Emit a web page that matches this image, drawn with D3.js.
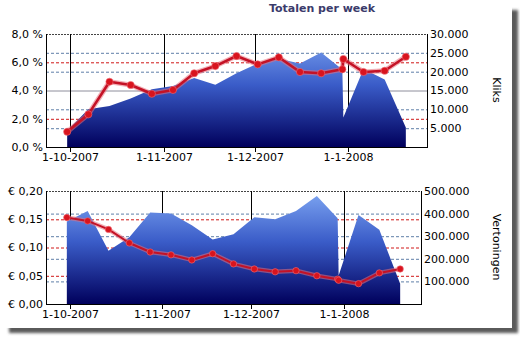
<!DOCTYPE html>
<html>
<head>
<meta charset="utf-8">
<script src="https://cdn.jsdelivr.net/npm/d3@7"></script>
<style>
  html, body { margin: 0; padding: 0; background: #fff; }
  svg { display: block; }
  text { font-family: "DejaVu Sans", Verdana, sans-serif; font-size: 11px; fill: #000; }
</style>
</head>
<body>
<svg id="chart" width="520" height="337"></svg>
<script>
// Weekly totals (week end dates); the year boundary week is split in two rows
const weeks = [
  "2007-09-30", "2007-10-07", "2007-10-14", "2007-10-21", "2007-10-28",
  "2007-11-04", "2007-11-11", "2007-11-18", "2007-11-25", "2007-12-02",
  "2007-12-09", "2007-12-16", "2007-12-23", "2007-12-30", "2007-12-30T08:00",
  "2008-01-06", "2008-01-13", "2008-01-20"
];
// Click-through rate in %
const ctrPct = [1.08, 2.31, 4.62, 4.39, 3.77, 4.04, 5.22, 5.73, 6.44, 5.85,
                6.35, 5.31, 5.22, 5.50, 6.23, 5.31, 5.40, 6.39];
// Clicks (kliks)
const clicks = [4300, 10000, 10900, 12900, 15300, 16200, 18300, 16500, 19600, 22200,
                23400, 22200, 25100, 20600, 7800, 20700, 17900, 5200];
// Cost per click in euro
const costPerClick = [0.153, 0.147, 0.132, 0.108, 0.092, 0.087, 0.078, 0.089, 0.071, 0.062,
                      0.057, 0.059, 0.050, 0.044, 0.042, 0.036, 0.055, 0.062];
// Impressions (vertoningen)
const impressions = [365000, 412000, 236000, 295000, 405000, 400000, 348000, 285000, 309000, 384000,
                     375000, 412000, 478000, 379000, 126000, 394000, 328000, 90000];

const monthTicks = ["2007-10-01", "2007-11-01", "2007-12-01", "2008-01-01"];
const pctTicks = [0, 2, 4, 6, 8];
const clickTicks = [5000, 10000, 15000, 20000, 25000, 30000];
const cpcTicks = [0, 0.05, 0.10, 0.15, 0.20];
const imprTicks = [100000, 200000, 300000, 400000, 500000];
const xDomain = ["2007-09-23", "2008-01-27"];

const parseDay = d3.timeParse("%Y-%m-%d");
const parseHour = d3.timeParse("%Y-%m-%dT%H:%M");
const toDate = s => parseHour(s) || parseDay(s);

const nl = d3.formatLocale({ decimal: ",", thousands: ".", grouping: [3], currency: ["€ ", ""] });
const fmtPct = v => nl.format(".1f")(v) + " %";
const fmtInt = nl.format(",");
const fmtEur = v => "€ " + nl.format(".2f")(v);
const fmtDate = d3.timeFormat("%-d-%-m-%Y");

const svg = d3.select("#chart");
const defs = svg.append("defs");

// Panel with a soft drop shadow
defs.append("filter").attr("id", "shadow").attr("x", "-5%").attr("y", "-5%")
  .attr("width", "110%").attr("height", "110%")
  .append("feGaussianBlur").attr("stdDeviation", 1.8);
svg.append("rect").attr("x", 9).attr("y", 10).attr("width", 509).attr("height", 323)
  .attr("fill", "#5a5a5a").attr("filter", "url(#shadow)");
svg.append("rect").attr("x", -2).attr("y", -2).attr("width", 514).attr("height", 330)
  .attr("fill", "#fff");

svg.append("text").attr("x", 322).attr("y", 12).attr("text-anchor", "middle")
  .style("font-weight", "bold").style("fill", "#3b3b6b").text("Totalen per week");

function drawChart(o) {
  const g = svg.append("g");
  const x = d3.scaleTime().domain(xDomain.map(toDate)).range([46, o.right]);
  const yL = d3.scaleLinear().domain([0, o.leftMax]).range([o.bottom, o.top]);
  const yR = d3.scaleLinear().domain([0, o.rightMax]).range([o.bottom, o.top]);
  const rows = weeks.map((w, i) => ({ d: toDate(w), a: o.area[i], l: o.line[i] }));

  const grad = defs.append("linearGradient").attr("id", o.id + "-fill")
    .attr("gradientUnits", "userSpaceOnUse")
    .attr("x1", 0).attr("x2", 0).attr("y1", o.top).attr("y2", o.bottom);
  grad.append("stop").attr("offset", 0).attr("stop-color", "#7ea6f2");
  grad.append("stop").attr("offset", 0.45).attr("stop-color", "#3a5cc8");
  grad.append("stop").attr("offset", 1).attr("stop-color", "#00005c");

  // Horizontal gridlines
  const leftPx = o.leftTicks.filter(v => v > 0 && v < o.leftMax).map(v => Math.round(yL(v) * 10) / 10);
  const rightPx = o.rightTicks.filter(v => v < o.rightMax).map(v => Math.round(yR(v) * 10) / 10);
  const shared = leftPx.filter(p => rightPx.includes(p));
  rightPx.filter(p => !shared.includes(p)).forEach(p => {
    g.append("line").attr("x1", 46).attr("x2", o.right).attr("y1", p + 0.5).attr("y2", p + 0.5)
      .attr("stroke", "#5f7fa8").attr("stroke-dasharray", "3,2");
  });
  leftPx.filter(p => !shared.includes(p)).forEach(p => {
    g.append("line").attr("x1", 46).attr("x2", o.right).attr("y1", p + 0.5).attr("y2", p + 0.5)
      .attr("stroke", "#d01818").attr("stroke-dasharray", "3,2");
  });
  shared.forEach(p => {
    g.append("line").attr("x1", 46).attr("x2", o.right).attr("y1", p + 0.5).attr("y2", p + 0.5)
      .attr("stroke", "#8e8e9c");
  });
  g.append("line").attr("x1", 46).attr("x2", o.right).attr("y1", o.top + 0.5).attr("y2", o.top + 0.5)
    .attr("stroke", "#444").attr("stroke-dasharray", "2,1");

  // Month markers
  monthTicks.forEach(m => {
    const px = Math.round(x(toDate(m))) + 0.5;
    g.append("line").attr("x1", px).attr("x2", px).attr("y1", o.top).attr("y2", o.bottom + 5)
      .attr("stroke", "#000");
    g.append("text").attr("x", px).attr("y", o.bottom + 14).attr("text-anchor", "middle")
      .text(fmtDate(toDate(m)));
  });

  // Area series
  g.append("path").datum(rows)
    .attr("d", d3.area().x(r => x(r.d)).y0(o.bottom).y1(r => yR(r.a)))
    .attr("fill", `url(#${o.id}-fill)`);

  // Axes lines
  g.append("line").attr("x1", 46.5).attr("x2", 46.5).attr("y1", o.top).attr("y2", o.bottom + 0.5).attr("stroke", "#000");
  g.append("line").attr("x1", o.right + 0.5).attr("x2", o.right + 0.5).attr("y1", o.top).attr("y2", o.bottom + 0.5).attr("stroke", "#000");
  g.append("line").attr("x1", 46).attr("x2", o.right + 1).attr("y1", o.bottom + 0.5).attr("y2", o.bottom + 0.5).attr("stroke", "#000");

  // Line series with a soft halo
  const line = d3.line().x(r => x(r.d)).y(r => yL(r.l));
  g.append("path").datum(rows).attr("d", line).attr("fill", "none")
    .attr("stroke", "#e8707c").attr("stroke-opacity", 0.55).attr("stroke-width", o.lw + 2.5)
    .attr("stroke-linejoin", "round");
  g.append("path").datum(rows).attr("d", line).attr("fill", "none")
    .attr("stroke", "#c41226").attr("stroke-width", o.lw).attr("stroke-linejoin", "round");
  g.selectAll("circle.pt").data(rows).join("circle")
    .attr("cx", r => x(r.d)).attr("cy", r => yL(r.l)).attr("r", o.r)
    .attr("fill", "#d8141e").attr("stroke", "#f06a74").attr("stroke-opacity", 0.6).attr("stroke-width", 1);

  // Tick labels
  o.leftTicks.forEach(v => {
    g.append("text").attr("x", 43).attr("y", yL(v)).attr("dy", "0.36em")
      .attr("text-anchor", "end").text(o.leftFmt(v));
  });
  o.rightTicks.forEach(v => {
    g.append("text").attr("x", o.right + 3).attr("y", yR(v)).attr("dy", "0.36em").text(fmtInt(v));
  });
  g.append("text").attr("transform", `translate(497,${o.labelY}) rotate(90)`)
    .attr("text-anchor", "middle").attr("dy", "0.35em").text(o.rightTitle);
}

drawChart({
  id: "top", top: 34, bottom: 147, right: 427,
  leftMax: 8, rightMax: 30000, leftTicks: pctTicks, rightTicks: clickTicks,
  leftFmt: fmtPct, area: clicks, line: ctrPct, lw: 2.6, r: 3.6,
  rightTitle: "Kliks", labelY: 90
});
drawChart({
  id: "bottom", top: 191, bottom: 304, right: 421,
  leftMax: 0.20, rightMax: 500000, leftTicks: cpcTicks, rightTicks: imprTicks,
  leftFmt: fmtEur, area: impressions, line: costPerClick, lw: 2, r: 3.2,
  rightTitle: "Vertoningen", labelY: 247
});
</script>
</body>
</html>
